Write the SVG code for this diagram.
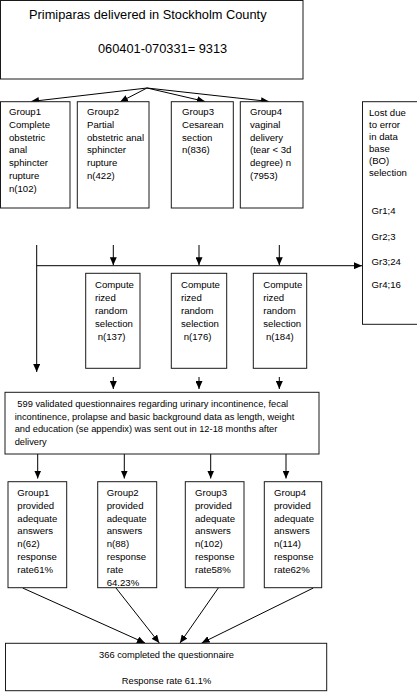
<svg xmlns="http://www.w3.org/2000/svg" width="417" height="692" viewBox="0 0 417 692">
<defs>
<marker id="ah" markerUnits="userSpaceOnUse" markerWidth="8" markerHeight="7" refX="8" refY="3.5" orient="auto">
<path d="M0,0 L8,3.5 L0,7 z" fill="#000"/>
</marker>
<style>
rect{fill:#fff;stroke:#1a1a1a;stroke-width:1}
text{font-family:"Liberation Sans",Arial,sans-serif;font-size:9.6px;fill:#000}
.t{font-size:12.8px}
.s{font-size:9.3px}
.c{text-anchor:middle}
#connectors line{stroke:#000;stroke-width:1;fill:none}
.a{marker-end:url(#ah)}
</style>
</defs>
<rect width="417" height="692" style="fill:#fff;stroke:none"/>
<g id="top">
<rect x="0.5" y="0.5" width="302.5" height="78.5"/>
<text class="t" x="29" y="19">Primiparas delivered in Stockholm County</text>
<text class="t" x="98" y="53">060401-070331= 9313</text>
</g>
<g id="connectors">
<line class="a" x1="147" y1="88" x2="31" y2="101.5"/>
<line class="a" x1="147" y1="88" x2="120" y2="102"/>
<line class="a" x1="147" y1="88" x2="205" y2="101.5"/>
<line class="a" x1="147" y1="88" x2="269" y2="101.5"/>
<line class="a" x1="36.7" y1="245" x2="36.7" y2="372"/>
<line class="a" x1="36.7" y1="265.7" x2="362" y2="265.7"/>
<line class="a" x1="113.3" y1="245" x2="113.3" y2="265.2"/>
<line class="a" x1="199" y1="245" x2="199" y2="265.2"/>
<line class="a" x1="279.3" y1="245" x2="279.3" y2="265.2"/>
<line class="a" x1="113.3" y1="377" x2="113.3" y2="389"/>
<line class="a" x1="199" y1="377" x2="199" y2="389"/>
<line class="a" x1="279.3" y1="377" x2="279.3" y2="389"/>
<line class="a" x1="37.7" y1="454" x2="37.7" y2="478.5"/>
<line class="a" x1="124.3" y1="454" x2="124.3" y2="478.5"/>
<line class="a" x1="210.7" y1="454" x2="210.7" y2="478.5"/>
<line class="a" x1="286" y1="454" x2="286" y2="478.5"/>
<line class="a" x1="22.7" y1="588" x2="145" y2="643"/>
<line class="a" x1="116" y1="588" x2="159.3" y2="643"/>
<line class="a" x1="218.3" y1="588" x2="180" y2="643"/>
<line class="a" x1="313.3" y1="588" x2="201.7" y2="643"/>
</g>
<g id="g1">
<rect x="0.5" y="101.7" width="69.5" height="106.3"/>
<text x="9" y="115">Group1</text>
<text x="9" y="127.8">Complete</text>
<text x="9" y="140.6">obstetric</text>
<text x="9" y="153.4">anal</text>
<text x="9" y="166.2">sphincter</text>
<text x="9" y="179">rupture</text>
<text x="9" y="191.8">n(102)</text>
</g>
<g id="g2">
<rect x="77.3" y="101.7" width="71.7" height="106.3"/>
<text x="87" y="115">Group2</text>
<text x="87" y="127.8">Partial</text>
<text x="87" y="140.6">obstetric anal</text>
<text x="87" y="153.4">sphincter</text>
<text x="87" y="166.2">rupture</text>
<text x="87" y="179">n(422)</text>
</g>
<g id="g3">
<rect x="171.3" y="101.7" width="62" height="106.3"/>
<text x="182" y="115">Group3</text>
<text x="182" y="127.8">Cesarean</text>
<text x="182" y="140.6">section</text>
<text x="182" y="153.4">n(836)</text>
</g>
<g id="g4">
<rect x="240.3" y="101.7" width="62.7" height="106.3"/>
<text x="250" y="115">Group4</text>
<text x="250" y="127.8">vaginal</text>
<text x="250" y="140.6">delivery</text>
<text x="250" y="153.4">(tear &lt; 3d</text>
<text x="250" y="166.2">degree) n</text>
<text x="250" y="179">(7953)</text>
</g>
<g id="lost">
<rect x="362.5" y="101.7" width="60" height="222.6"/>
<text x="369" y="116">Lost due</text>
<text x="369" y="128">to error</text>
<text x="369" y="140">in data</text>
<text x="369" y="152">base</text>
<text x="369" y="164">(BO)</text>
<text x="369" y="176">selection</text>
<text x="371.5" y="213.5">Gr1;4</text>
<text x="371.5" y="239.5">Gr2;3</text>
<text x="371.5" y="264.5">Gr3;24</text>
<text x="371.5" y="288">Gr4;16</text>
</g>
<g id="r1">
<rect x="85.7" y="273.3" width="54.3" height="95"/>
<text x="95" y="288">Compute</text>
<text x="95" y="301">rized</text>
<text x="95" y="314">random</text>
<text x="95" y="326.7">selection</text>
<text x="97.7" y="339.5">n(137)</text>
</g>
<g id="r2">
<rect x="171.3" y="273.3" width="55.4" height="95"/>
<text x="181" y="288">Compute</text>
<text x="181" y="301">rized</text>
<text x="181" y="314">random</text>
<text x="181" y="326.7">selection</text>
<text x="183.7" y="339.5">n(176)</text>
</g>
<g id="r3">
<rect x="253.3" y="273.3" width="53.4" height="95"/>
<text x="263.3" y="288">Compute</text>
<text x="263.3" y="301">rized</text>
<text x="263.3" y="314">random</text>
<text x="263.3" y="326.7">selection</text>
<text x="266" y="339.5">n(184)</text>
</g>
<g id="quest">
<rect x="5" y="392.3" width="314" height="61.7"/>
<text class="s" x="17.3" y="407">599 validated questionnaires regarding urinary incontinence, fecal</text>
<text class="s" x="14.7" y="419.5">incontinence, prolapse and basic background data as length, weight</text>
<text class="s" x="14.7" y="432">and education (se appendix) was sent out in 12-18 months after</text>
<text class="s" x="14.7" y="444.5">delivery</text>
</g>
<g id="b1">
<rect x="8" y="481.7" width="58.7" height="106"/>
<text x="17.3" y="496">Group1</text>
<text x="17.3" y="508.8">provided</text>
<text x="17.3" y="521.6">adequate</text>
<text x="17.3" y="534.4">answers</text>
<text x="17.3" y="547.2">n(62)</text>
<text x="17.3" y="560">response</text>
<text x="17.3" y="572.8">rate61%</text>
</g>
<g id="b2">
<rect x="97.7" y="481.7" width="59" height="106"/>
<text x="106.7" y="496">Group2</text>
<text x="106.7" y="508.8">provided</text>
<text x="106.7" y="521.6">adequate</text>
<text x="106.7" y="534.4">answers</text>
<text x="106.7" y="547.2">n(88)</text>
<text x="106.7" y="560">response</text>
<text x="106.7" y="572.8">rate</text>
<text x="106.7" y="585.6">64.23%</text>
</g>
<g id="b3">
<rect x="185.3" y="481.7" width="58.7" height="106"/>
<text x="195" y="496">Group3</text>
<text x="195" y="508.8">provided</text>
<text x="195" y="521.6">adequate</text>
<text x="195" y="534.4">answers</text>
<text x="195" y="547.2">n(102)</text>
<text x="195" y="560">response</text>
<text x="195" y="572.8">rate58%</text>
</g>
<g id="b4">
<rect x="264.3" y="481.7" width="57.4" height="106"/>
<text x="274" y="496">Group4</text>
<text x="274" y="508.8">provided</text>
<text x="274" y="521.6">adequate</text>
<text x="274" y="534.4">answers</text>
<text x="274" y="547.2">n(114)</text>
<text x="274" y="560">response</text>
<text x="274" y="572.8">rate62%</text>
</g>
<g id="final">
<rect x="5.5" y="643.3" width="321.2" height="47.4"/>
<text class="c s" x="166.5" y="657.5">366 completed the questionnaire</text>
<text class="c s" x="166.5" y="683.5">Response rate 61.1%</text>
</g>
</svg>
